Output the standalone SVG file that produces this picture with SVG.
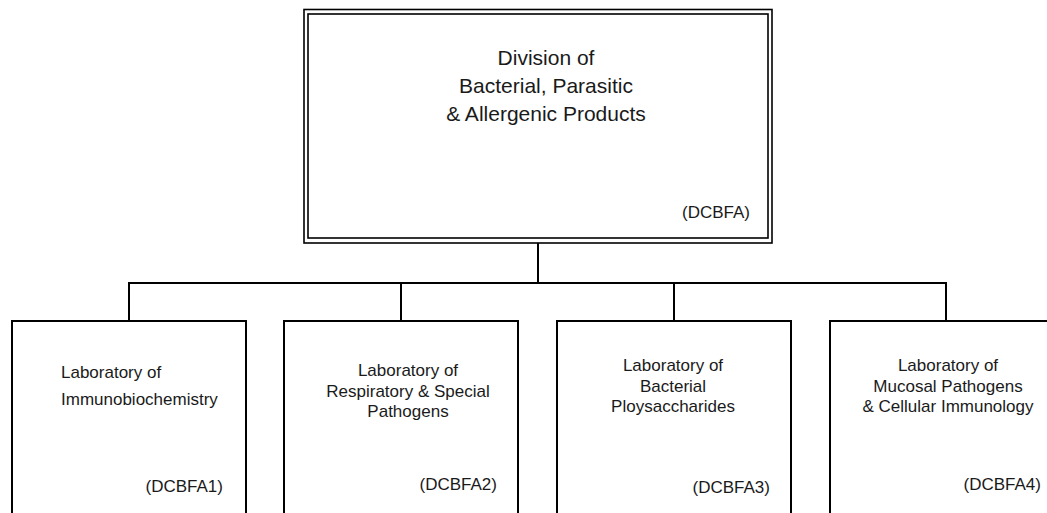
<svg xmlns="http://www.w3.org/2000/svg" width="1047" height="513" viewBox="0 0 1047 513">
<style>
.bg{fill:#ffffff}
.box{fill:#ffffff;stroke:#000000;stroke-width:2}
.dbl{fill:none;stroke:#000000;stroke-width:1.6}
.conn{fill:none;stroke:#000000;stroke-width:2}
text{font-family:"Liberation Sans",Arial,sans-serif;fill:#1a1a1a}
.t1{font-size:21px}
.t2{font-size:17px}
.c{text-anchor:middle}
.r{text-anchor:end}
</style>
<rect class="bg" x="0" y="0" width="1047" height="513"/>
<g id="connectors">
<path class="conn" d="M538 243 V283 M129 283 H946 M129 282 V321 M401 282 V321 M674 282 V321 M946 282 V321"/>
</g>
<g id="DCBFA">
<rect x="304" y="9.5" width="468" height="233.5" fill="#ffffff" class="dbl"/>
<rect class="dbl" x="308" y="14" width="460" height="224"/>
<text class="t1 c" x="546" y="65">Division of</text>
<text class="t1 c" x="546" y="93">Bacterial, Parasitic</text>
<text class="t1 c" x="546" y="121">&amp; Allergenic Products</text>
<text class="t2 r" x="750" y="218">(DCBFA)</text>
</g>
<g id="DCBFA1">
<rect class="box" x="12" y="321" width="234" height="210"/>
<text class="t2" x="61" y="378">Laboratory of</text>
<text class="t2" x="61" y="405">Immunobiochemistry</text>
<text class="t2 r" x="223" y="492">(DCBFA1)</text>
</g>
<g id="DCBFA2">
<rect class="box" x="284" y="321" width="234" height="210"/>
<text class="t2 c" x="408" y="376">Laboratory of</text>
<text class="t2 c" x="408" y="397">Respiratory &amp; Special</text>
<text class="t2 c" x="408" y="417">Pathogens</text>
<text class="t2 r" x="497" y="490">(DCBFA2)</text>
</g>
<g id="DCBFA3">
<rect class="box" x="557" y="321" width="234" height="210"/>
<text class="t2 c" x="673" y="371">Laboratory of</text>
<text class="t2 c" x="673" y="392">Bacterial</text>
<text class="t2 c" x="673" y="412">Ploysaccharides</text>
<text class="t2 r" x="770" y="493">(DCBFA3)</text>
</g>
<g id="DCBFA4">
<rect class="box" x="830" y="321" width="234" height="210"/>
<text class="t2 c" x="948" y="371">Laboratory of</text>
<text class="t2 c" x="948" y="392">Mucosal Pathogens</text>
<text class="t2 c" x="948" y="412">&amp; Cellular Immunology</text>
<text class="t2 r" x="1041" y="490">(DCBFA4)</text>
</g>
</svg>
